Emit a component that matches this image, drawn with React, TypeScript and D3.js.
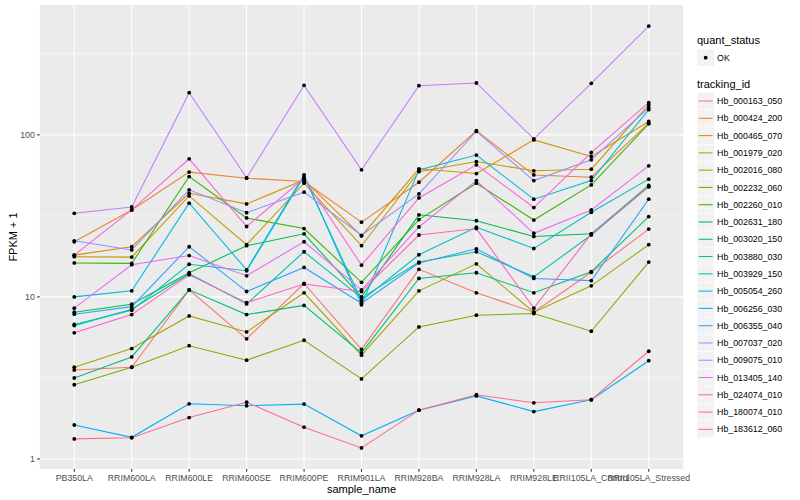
import * as d3 from "d3";

// sample order on the x axis
const samples = [
  "PB350LA", "RRIM600LA", "RRIM600LE", "RRIM600SE", "RRIM600PE", "RRIM901LA",
  "RRIM928BA", "RRIM928LA", "RRIM928LE", "RRII105LA_Control", "RRII105LA_Stressed",
];

const trackingIds = [
  "Hb_000163_050", "Hb_000424_200", "Hb_000465_070", "Hb_001979_020", "Hb_002016_080",
  "Hb_002232_060", "Hb_002260_010", "Hb_002631_180", "Hb_003020_150", "Hb_003880_030",
  "Hb_003929_150", "Hb_005054_260", "Hb_006256_030", "Hb_006355_040", "Hb_007037_020",
  "Hb_009075_010", "Hb_013405_140", "Hb_024074_010", "Hb_180074_010", "Hb_183612_060",
];

// FPKM + 1 per gene, one value per sample
const hb_000163_050 = [3.54, 3.68, 11.05, 5.51, 12.1, 4.75, 14.8, 10.6, 8.05, 14.2, 26.2];
const hb_000424_200 = [21.9, 34.4, 58.9, 54.0, 51.5, 28.9, 51.0, 106, 56.6, 54.8, 118];
const hb_000465_070 = [18.1, 20.4, 43.6, 37.5, 52.7, 23.8, 61.7, 57.7, 93.1, 73.5, 121];
const hb_001979_020 = [17.7, 17.6, 42.0, 21.0, 50.3, 20.7, 59.3, 68.4, 60.0, 61.4, 153];
const hb_002016_080 = [3.68, 4.8, 7.63, 6.08, 10.6, 4.37, 10.9, 16.0, 8.05, 11.7, 21.0];
const hb_002232_060 = [2.87, 3.68, 5.0, 4.07, 5.4, 3.12, 6.53, 7.71, 7.9, 6.14, 16.4];
const hb_002260_010 = [16.2, 16.1, 55.3, 30.7, 26.4, 12.3, 30.0, 50.3, 29.8, 49.1, 117];
const hb_002631_180 = [8.05, 9.02, 14.1, 20.7, 24.5, 10.0, 32.1, 29.5, 23.6, 24.5, 48.7];
const hb_003020_150 = [3.16, 4.26, 11.05, 7.78, 8.86, 4.51, 13.0, 14.1, 10.6, 14.3, 31.3];
const hb_003880_030 = [6.65, 8.4, 13.9, 9.05, 19.0, 9.86, 16.4, 19.0, 13.3, 24.1, 47.9];
const hb_003929_150 = [6.76, 8.26, 15.9, 14.5, 55.4, 9.49, 18.2, 26.9, 19.9, 33.3, 53.3];
const hb_005054_260 = [10.0, 10.9, 37.9, 14.7, 56.6, 8.93, 60.8, 75.0, 40.1, 52.2, 143];
const hb_006256_030 = [1.62, 1.36, 2.19, 2.13, 2.18, 1.39, 2.0, 2.45, 1.96, 2.32, 4.04];
const hb_006355_040 = [7.82, 8.71, 20.4, 10.8, 15.2, 9.14, 16.2, 19.8, 13.0, 12.6, 40.1];
const hb_007037_020 = [22.2, 19.5, 45.8, 33.1, 44.3, 24.0, 43.2, 105, 52.2, 70.1, 147];
const hb_009075_010 = [32.8, 35.9, 182, 54.3, 202, 60.8, 201, 209, 94.5, 208, 469];
const hb_013405_140 = [8.52, 15.8, 18.0, 13.5, 21.9, 11.05, 27.0, 52.2, 24.7, 34.4, 64.4];
const hb_024074_010 = [18.1, 34.4, 71.1, 27.2, 54.0, 15.7, 40.8, 65.3, 35.6, 77.8, 158];
const hb_180074_010 = [6.0, 7.78, 13.7, 9.22, 12.0, 10.8, 24.1, 26.4, 8.52, 24.5, 47.9];
const hb_183612_060 = [1.33, 1.35, 1.8, 2.24, 1.57, 1.17, 2.0, 2.49, 2.22, 2.32, 4.62];

const seriesValues = [
  hb_000163_050, hb_000424_200, hb_000465_070, hb_001979_020, hb_002016_080,
  hb_002232_060, hb_002260_010, hb_002631_180, hb_003020_150, hb_003880_030,
  hb_003929_150, hb_005054_260, hb_006256_030, hb_006355_040, hb_007037_020,
  hb_009075_010, hb_013405_140, hb_024074_010, hb_180074_010, hb_183612_060,
];

const yTicks = [1, 10, 100];
const yMinor = [10 ** -0.5, 10 ** 0.5, 10 ** 1.5, 10 ** 2.5];

// ggplot hue palette, 20 levels
const palette = [
  "#F8766D", "#EA8331", "#D89000", "#C09B00", "#A3A500", "#7CAE00", "#39B600",
  "#00BB4E", "#00BF7D", "#00C1A3", "#00BFC4", "#00BAE0", "#00B0F6", "#35A2FF",
  "#9590FF", "#C77CFF", "#E76BF3", "#FA62DB", "#FF62BC", "#FF6C91",
];

const W = 800;
const H = 500;
const panel = { left: 39.8, right: 683.2, top: 5, bottom: 469 };
const font = "'Liberation Sans', Arial, Helvetica, sans-serif";

export default function App() {
  const all = seriesValues.flat();
  const lo = Math.log10(d3.min(all)!);
  const hi = Math.log10(d3.max(all)!);
  const pad = (hi - lo) * 0.05;

  const y = d3
    .scaleLog()
    .domain([10 ** (lo - pad), 10 ** (hi + pad)])
    .range([panel.bottom, panel.top]);

  const x = d3
    .scalePoint<string>()
    .domain(samples)
    .range([panel.left, panel.right])
    .padding(0.6);

  const line = d3
    .line<number>()
    .x((_, i) => x(samples[i])!)
    .y((d) => y(d));

  const [d0, d1] = y.domain();
  const minor = yMinor.filter((v) => v > d0 && v < d1);

  const legendX = 697;
  const keySize = 17.28;
  const qsTop = 49;
  const tidTop = 92.4;

  return (
    <svg
      width={W}
      height={H}
      style={{ position: "absolute", left: 0, top: 0, background: "#fff" }}
      fontFamily={font}
    >
      {/* panel */}
      <rect
        x={panel.left}
        y={panel.top}
        width={panel.right - panel.left}
        height={panel.bottom - panel.top}
        fill="#EBEBEB"
      />
      {minor.map((v) => (
        <line key={"mn" + v} x1={panel.left} x2={panel.right} y1={y(v)} y2={y(v)} stroke="#fff" strokeWidth={0.53} />
      ))}
      {yTicks.map((v) => (
        <line key={"mj" + v} x1={panel.left} x2={panel.right} y1={y(v)} y2={y(v)} stroke="#fff" strokeWidth={1.07} />
      ))}
      {samples.map((s) => (
        <line key={"gx" + s} x1={x(s)} x2={x(s)} y1={panel.top} y2={panel.bottom} stroke="#fff" strokeWidth={1.07} />
      ))}

      {/* lines */}
      {seriesValues.map((vals, i) => (
        <path key={"l" + i} d={line(vals)!} fill="none" stroke={palette[i]} strokeWidth={1.07} />
      ))}
      {/* points */}
      {seriesValues.map((vals, i) =>
        vals.map((v, j) => (
          <circle key={"p" + i + "-" + j} cx={x(samples[j])} cy={y(v)} r={1.9} fill="#000" />
        ))
      )}

      {/* y axis */}
      {yTicks.map((v) => (
        <g key={"yt" + v}>
          <line x1={panel.left - 2.75} x2={panel.left} y1={y(v)} y2={y(v)} stroke="#333333" strokeWidth={1.07} />
          <text x={panel.left - 4.9} y={y(v) + 3.1} textAnchor="end" fontSize={8.8} fill="#4D4D4D">
            {v}
          </text>
        </g>
      ))}
      <text
        transform={`translate(17,${(panel.top + panel.bottom) / 2}) rotate(-90)`}
        textAnchor="middle"
        fontSize={11}
        fill="#000"
      >
        FPKM + 1
      </text>

      {/* x axis */}
      {samples.map((s) => (
        <g key={"xt" + s}>
          <line x1={x(s)} x2={x(s)} y1={panel.bottom} y2={panel.bottom + 2.75} stroke="#333333" strokeWidth={1.07} />
          <text x={x(s)} y={panel.bottom + 11.6} textAnchor="middle" fontSize={8.8} fill="#4D4D4D">
            {s}
          </text>
        </g>
      ))}
      <text x={(panel.left + panel.right) / 2} y={492.5} textAnchor="middle" fontSize={11} fill="#000">
        sample_name
      </text>

      {/* legend: quant_status */}
      <text x={legendX} y={44} fontSize={11} fill="#000">
        quant_status
      </text>
      <rect x={legendX} y={qsTop} width={keySize} height={keySize} fill="#F2F2F2" stroke="#fff" strokeWidth={0.5} />
      <circle cx={legendX + keySize / 2} cy={qsTop + keySize / 2} r={1.9} fill="#000" />
      <text x={legendX + keySize + 2.8} y={qsTop + keySize / 2 + 3.1} fontSize={8.8} fill="#000">
        OK
      </text>

      {/* legend: tracking_id */}
      <text x={legendX} y={88} fontSize={11} fill="#000">
        tracking_id
      </text>
      {trackingIds.map((id, i) => {
        const top = tidTop + i * keySize;
        return (
          <g key={"lg" + id}>
            <rect x={legendX} y={top} width={keySize} height={keySize} fill="#F2F2F2" stroke="#fff" strokeWidth={0.5} />
            <line
              x1={legendX + 1.7}
              x2={legendX + keySize - 1.7}
              y1={top + keySize / 2}
              y2={top + keySize / 2}
              stroke={palette[i]}
              strokeWidth={1.07}
            />
            <text x={legendX + keySize + 2.8} y={top + keySize / 2 + 3.1} fontSize={8.8} fill="#000">
              {id}
            </text>
          </g>
        );
      })}
    </svg>
  );
}
